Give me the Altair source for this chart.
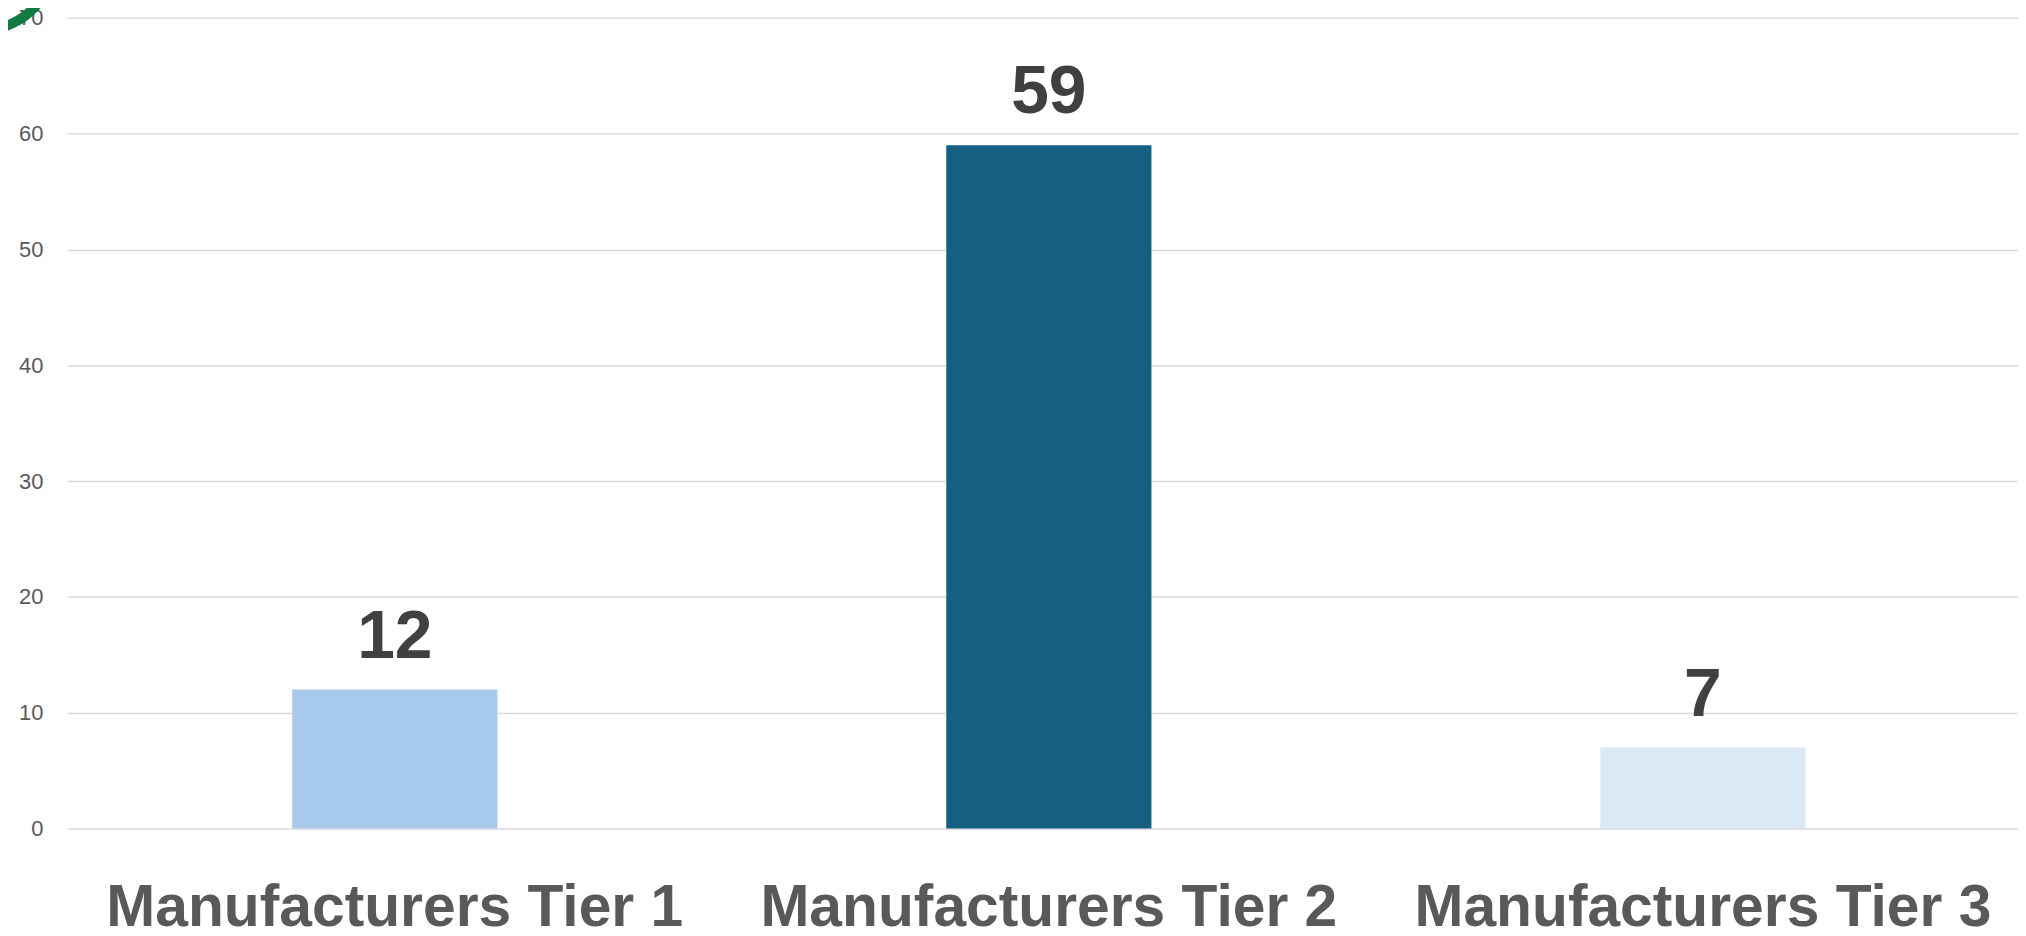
import altair as alt
import pandas as pd

categories = ["Manufacturers Tier 1", "Manufacturers Tier 2", "Manufacturers Tier 3"]
values = [12, 59, 7]
bar_colors = ["#A7CAEC", "#156082", "#DBE8F5"]
y_ticks = [0, 10, 20, 30, 40, 50, 60, 70]

df = pd.DataFrame({"category": categories, "value": values})
deco = pd.DataFrame({"k": [1]})

FONT = "Liberation Sans"

x_enc = alt.X(
    "category:N",
    sort=categories,
    scale=alt.Scale(paddingInner=0, paddingOuter=0, range=[1, 1971]),
    axis=alt.Axis(
        title=None, labelAngle=0, labelFont=FONT, labelFontWeight="bold",
        labelFontSize=59, labelColor="#595959", labelPadding=97,
        labelBaseline="alphabetic", labelLimit=0, labelOverlap=False,
        ticks=False, tickSize=0, domain=False, grid=False,
    ),
)
y_enc = alt.Y(
    "value:Q",
    scale=alt.Scale(domain=[0, 70], nice=False),
    axis=alt.Axis(
        title=None, values=y_ticks, labelFont=FONT, labelFontSize=22,
        labelColor="#595959", labelPadding=24, ticks=False, tickSize=0,
        domain=False, grid=True, gridColor="#D9D9D9", gridWidth=1.5,
    ),
)

base = alt.Chart(df)
bars = base.mark_bar(size=206).encode(
    x=x_enc,
    y=y_enc,
    color=alt.Color("category:N", scale=alt.Scale(domain=categories, range=bar_colors), legend=None),
)
labels = base.mark_text(
    dy=-32, baseline="alphabetic", font=FONT, fontSize=68, fontWeight="bold", color="#404040"
).encode(x=x_enc, y=y_enc, text="value:Q")

arc = alt.Chart(deco).mark_arc(
    theta=1.7, theta2=3.3, radius=70, radius2=80, color="#107C41"
).encode(x=alt.value(-87), y=alt.value(-62))

chart = alt.layer(bars, labels, arc).properties(
    width=1959,
    height=814,
    autosize=alt.AutoSizeParams(type="none"),
    padding={"left": 59, "top": 8, "right": 0, "bottom": 106},
    background="white",
).configure_view(stroke=None)

chart.save("out.html", embed_options={"renderer": "svg", "actions": False})
